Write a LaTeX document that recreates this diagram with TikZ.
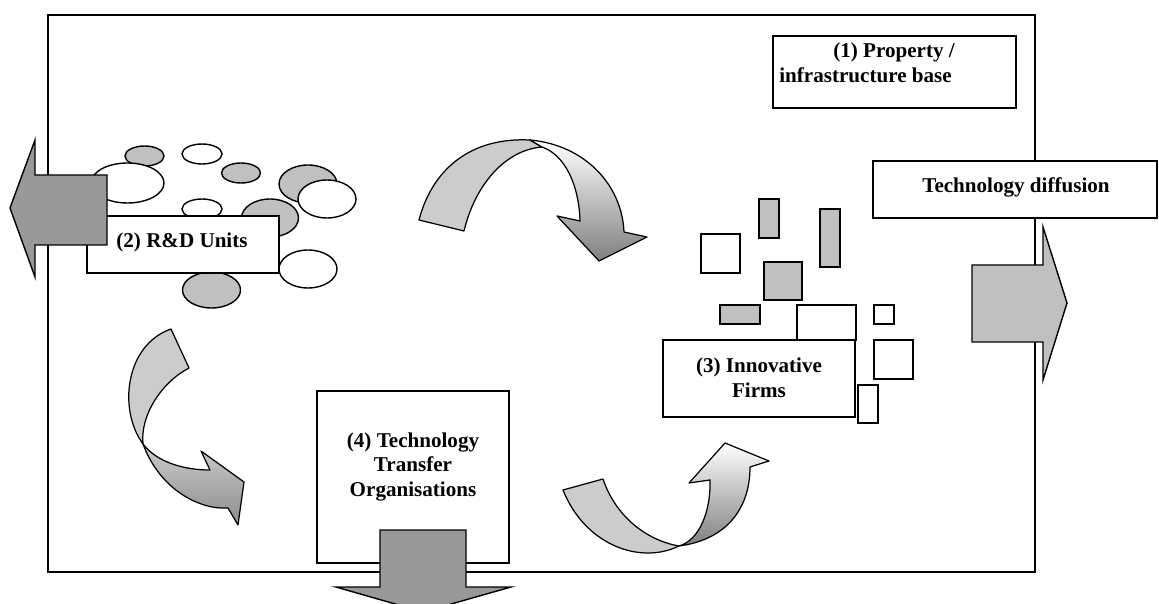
\documentclass[tikz,border=0pt]{standalone}
\usepackage{fontspec}
\setmainfont{Liberation Serif}
\definecolor{darkfill}{HTML}{999999}
\definecolor{midfill}{HTML}{C0C0C0}
\definecolor{bandfill}{HTML}{CCCCCC}
\tikzset{
  frame/.style={line width=1.1pt},
  box/.style={draw, fill=white, line width=0.9pt},
  lbl/.style={font=\bfseries\fontsize{12}{14}\selectfont, align=center, inner sep=0pt},
  blob/.style={draw, line width=0.8pt},
  blockarrow/.style={draw, line width=0.8pt, line join=miter},
  band/.style={draw, line width=0.7pt, fill=bandfill, line join=round},
  twist/.style={draw, line width=0.7pt, line join=round, top color=white, bottom color=black!50}
}
\begin{document}
\begin{tikzpicture}[x=0.02cm, y=-0.02cm]
\useasboundingbox (0,0) rectangle (1159,604);
% park boundary
\draw[frame] (48,15) rectangle (1035,572);
% R&D units cluster
\foreach \cx/\cy/\rx/\ry in {144.5/156/19.5/10, 241/173/19.5/10, 308/184/29/19, 270/218/28.5/19, 211.5/290/29/18}
  \draw[blob, fill=midfill] (\cx,\cy) ellipse [x radius=\rx, y radius=\ry];
\foreach \cx/\cy/\rx/\ry in {202/154/20/10, 127.5/183/36.5/20, 327/199/29/19, 202/209/20/10, 308/269/29/19}
  \draw[blob, fill=white] (\cx,\cy) ellipse [x radius=\rx, y radius=\ry];
\draw[box] (87,216) rectangle (279,273);
\node[lbl] (rd) at (182,242) {(2) R\&D Units};
\draw[blockarrow, fill=darkfill] (107,175) -- (35,175) -- (35,140) -- (10,208) -- (35,277) -- (35,245) -- (107,245) -- cycle;
% innovative firms
\foreach \xa/\ya/\xb/\yb in {759/199/779/238, 820/209/840/267, 764/262/802/300, 720/305/760/324}
  \draw[blob, fill=midfill] (\xa,\ya) rectangle (\xb,\yb);
\foreach \xa/\ya/\xb/\yb in {701/234/740/273, 797/305/856/340, 874/305/894/324, 874/340/913/379, 858/385/878/423}
  \draw[blob, fill=white] (\xa,\ya) rectangle (\xb,\yb);
\draw[box] (663,340) rectangle (855,417);
\node[lbl] (firms) at (759,378) {(3) Innovative\\Firms};
% diffusion
\draw[blockarrow, fill=midfill] (972,265) -- (1043,265) -- (1043,227) -- (1067,303) -- (1043,380) -- (1043,342) -- (972,342) -- cycle;
\draw[box] (873,161) rectangle (1157,218);
\node[lbl] (diff) at (1016,187) {Technology diffusion};
% property base
\draw[box] (773,36) rectangle (1016,108);
\node[lbl, align=left, anchor=west] (prop) at (779,63) {\hspace*{1.08cm}(1) Property /\\infrastructure base};
% transfer organisations
\draw[box] (317,391) rectangle (509,563);
\node[lbl] (tto) at (413,467) {(4) Technology\\Transfer\\Organisations};
\draw[blockarrow, fill=darkfill] (380,530) -- (466,530) -- (466,587) -- (511,587) -- (423,612) -- (336,587) -- (380,587) -- cycle;
% curved arrows
\draw[band] (419,220) .. controls (432,170) and (470,137) .. (530,140) -- (542,147) .. controls (505,150) and (475,185) .. (464,231) -- cycle;
\draw[twist] (530,140) .. controls (585,145) and (622,185) .. (624,232) -- (647,237) -- (599,261) -- (557,216) -- (580,221) .. controls (579,185) and (565,155) .. (542,147) -- cycle;
\draw[band] (171,329) -- (189,368) .. controls (162,382) and (140,415) .. (143,444) .. controls (118,410) and (125,345) .. (171,329) -- cycle;
\draw[twist, top color=black!20, bottom color=black!45] (143,444) .. controls (160,490) and (200,510) .. (228,508) -- (238,525) -- (244,482) -- (201,451) -- (210,470) .. controls (180,470) and (155,460) .. (143,444) -- cycle;
\draw[band] (563,490) -- (603,479) .. controls (615,515) and (645,540) .. (679,546) .. controls (640,565) and (585,545) .. (563,490) -- cycle;
\draw[twist] (679,546) .. controls (700,540) and (711,510) .. (710,480) -- (689,483) -- (725,443) -- (769,461) -- (750,467) .. controls (750,510) and (725,540) .. (679,546) -- cycle;
\end{tikzpicture}
\end{document}
